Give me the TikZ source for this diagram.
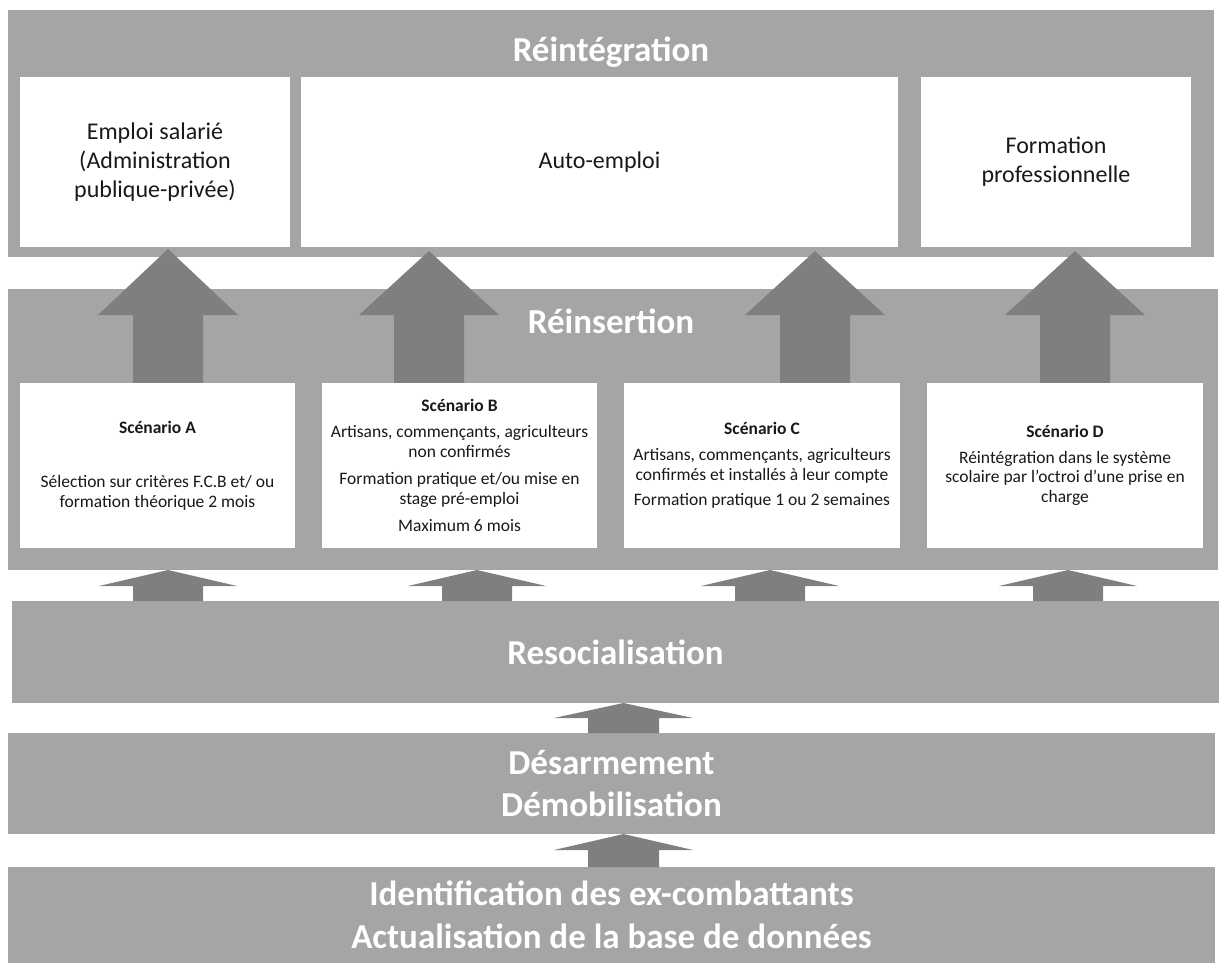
\documentclass[tikz,border=0pt]{standalone}
\usepackage{fontspec}
\setmainfont{Carlito}
\usepackage{tikz}

\definecolor{bandgray}{RGB}{166,165,163}
\definecolor{arrowgray}{RGB}{128,127,125}
\definecolor{boxtext}{RGB}{25,25,25}

\begin{document}
\begin{tikzpicture}[x=1pt, y=-1pt,
    band/.style={fill=bandgray, inner sep=0pt, align=center, text=white,
      font=\fontsize{35}{42.7}\selectfont\bfseries},
    bandtitle/.style={anchor=base, text=white, inner sep=0pt,
      font=\fontsize{35}{42.7}\selectfont\bfseries},
    outcome/.style={fill=white, inner sep=0pt, align=center, text=boxtext,
      minimum height=170pt, font=\fontsize{24}{29}\selectfont},
    scenario/.style={fill=white, inner sep=0pt, align=center, text=boxtext,
      minimum height=165pt, font=\fontsize{17.5}{19.5}\selectfont}]
  \useasboundingbox (0,0) rectangle (1221,963);

  % bands
  \node[band, minimum width=1206pt, minimum height=247pt] (reint) at (611,133.5) {};
  \node[band, minimum width=1210pt, minimum height=281pt] (reins) at (613,429.5) {};
  \node[band, minimum width=1207pt, minimum height=102pt] (resoc) at (615.5,652) {Resocialisation};
  \node[band, minimum width=1207pt, minimum height=101pt] (desarm) at (611.5,783.5) {Désarmement\\Démobilisation};
  \node[band, minimum width=1207pt, minimum height=96pt] (ident) at (611.5,915) {Identification des ex-combattants\\Actualisation de la base de données};

  % block arrows
  \foreach \cx/\tip in {168/249, 429/251, 815/251, 1075/251}
    \fill[arrowgray] (\cx,\tip) -- (\cx+70,315) -- (\cx+35,315) -- (\cx+35,383)
      -- (\cx-35,383) -- (\cx-35,315) -- (\cx-70,315) -- cycle;
  \foreach \cx in {168, 477, 770, 1068}
    \fill[arrowgray] (\cx,570) -- (\cx+69,586) -- (\cx+35,586) -- (\cx+35,601)
      -- (\cx-35,601) -- (\cx-35,586) -- (\cx-69,586) -- cycle;
  \foreach \tip/\base/\bot in {703/718/733, 834/850/867}
    \fill[arrowgray] (623.5,\tip) -- (693,\base) -- (659,\base) -- (659,\bot)
      -- (588,\bot) -- (588,\base) -- (554,\base) -- cycle;

  \node[bandtitle] (reintT) at (611,62) {Réintégration};
  \node[bandtitle] (reinsT) at (611,333) {Réinsertion};

  % outcomes
  \node[outcome, minimum width=270pt] (emploi) at (155,162) {Emploi salarié\\(Administration\\publique-privée)};
  \node[outcome, minimum width=597pt] (auto) at (599.5,162) {Auto-emploi};
  \node[outcome, minimum width=270pt] (formpro) at (1056,162) {Formation\\professionnelle};

  % scenarios
  \node[scenario, minimum width=275pt] (scA) at (157.5,465.5)
    {\textbf{Scénario A}\\[35pt]Sélection sur critères F.C.B et/ ou\\formation théorique 2 mois};
  \node[scenario, minimum width=275pt] (scB) at (459.5,465.5)
    {\textbf{Scénario B}\\[7pt]Artisans, commençants, agriculteurs\\non confirmés\\[8pt]Formation pratique et/ou mise en\\stage pré-emploi\\[8pt]Maximum 6 mois};
  \node[scenario, minimum width=276pt] (scC) at (762,465.5)
    {\textbf{Scénario C}\\[7pt]Artisans, commençants, agriculteurs\\confirmés et installés à leur compte\\[6pt]Formation pratique 1 ou 2 semaines};
  \node[scenario, minimum width=276pt] (scD) at (1065,465.5)
    {\textbf{Scénario D}\\[6pt]Réintégration dans le système\\scolaire par l’octroi d’une prise en\\charge};
\end{tikzpicture}
\end{document}
